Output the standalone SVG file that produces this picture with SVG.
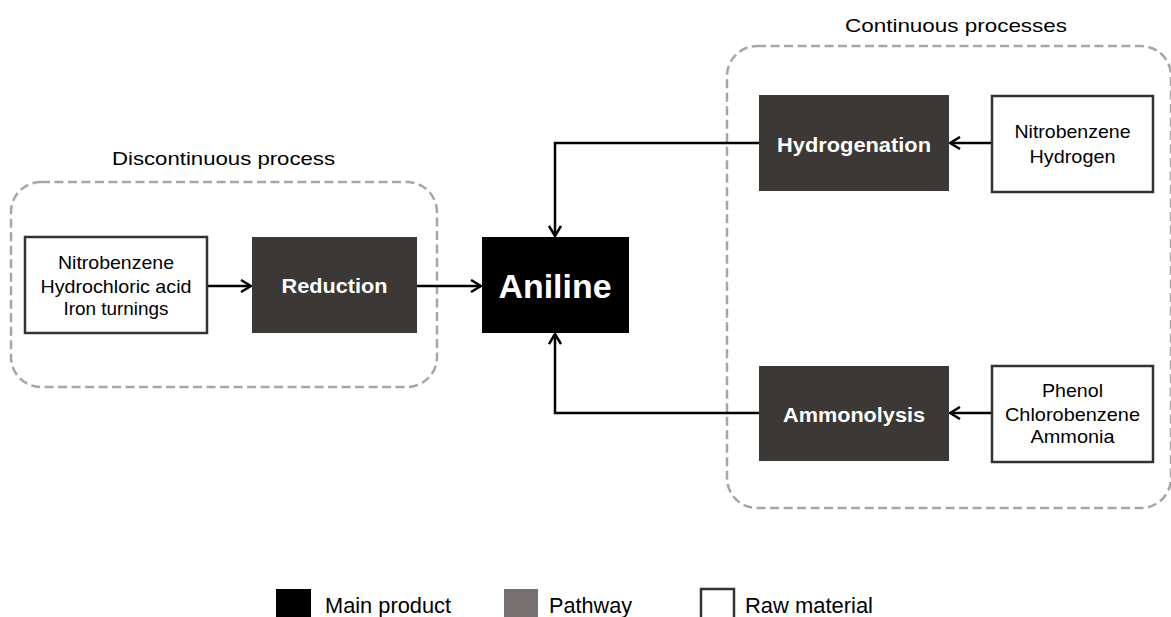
<svg xmlns="http://www.w3.org/2000/svg" width="1171" height="617" viewBox="0 0 1171 617">
<style>
  .grp{fill:none;stroke:#a6a6a6;stroke-width:2.5;stroke-dasharray:9 4.5}
  .raw{fill:#fff;stroke:#333;stroke-width:2.5}
  .path{fill:#3b3836}
  .prod{fill:#000}
  .t{font-family:"Liberation Sans",Arial,sans-serif;fill:#000;text-anchor:middle}
  .n{font-size:19px}
  .title{font-size:19px}
  .b{font-family:"Liberation Sans",Arial,sans-serif;font-weight:bold;fill:#fff;text-anchor:middle}
  .con{fill:none;stroke:#000;stroke-width:2.5}
  .leg{font-family:"Liberation Sans",Arial,sans-serif;font-size:22px;fill:#000}
</style>
<defs>
  <marker id="ah" viewBox="0 0 12 14" refX="11" refY="7" markerWidth="12" markerHeight="14" markerUnits="userSpaceOnUse" orient="auto">
    <path d="M1,1 L11,7 L1,13" fill="none" stroke="#000" stroke-width="2.5"/>
  </marker>
</defs>

<g id="group-discontinuous">
  <rect class="grp" x="11" y="182" width="426" height="205" rx="30"/>
  <text class="t title" x="223.5" y="165" textLength="223" lengthAdjust="spacingAndGlyphs">Discontinuous  process</text>
</g>
<g id="group-continuous">
  <rect class="grp" x="727" y="46" width="444" height="462" rx="30"/>
  <text class="t title" x="956" y="32" textLength="222" lengthAdjust="spacingAndGlyphs">Continuous  processes</text>
</g>

<g id="connectors">
  <line class="con" x1="207" y1="286" x2="251" y2="286" marker-end="url(#ah)"/>
  <line class="con" x1="417" y1="286" x2="481" y2="286" marker-end="url(#ah)"/>
  <polyline class="con" points="759,143 555,143 555,236" marker-end="url(#ah)"/>
  <polyline class="con" points="759,413 555,413 555,334" marker-end="url(#ah)"/>
  <line class="con" x1="992" y1="143" x2="950" y2="143" marker-end="url(#ah)"/>
  <line class="con" x1="992" y1="413" x2="950" y2="413" marker-end="url(#ah)"/>
</g>

<g id="raw-reduction">
  <rect class="raw" x="25" y="237" width="182" height="96"/>
  <text class="t n" x="116" y="269" textLength="116" lengthAdjust="spacingAndGlyphs">Nitrobenzene</text>
  <text class="t n" x="116" y="293" textLength="151" lengthAdjust="spacingAndGlyphs">Hydrochloric acid</text>
  <text class="t n" x="116" y="315" textLength="105" lengthAdjust="spacingAndGlyphs">Iron turnings</text>
</g>
<g id="reduction">
  <rect class="path" x="252" y="237" width="165" height="96"/>
  <text class="b" x="334.5" y="293" font-size="21" textLength="106" lengthAdjust="spacingAndGlyphs">Reduction</text>
</g>
<g id="aniline">
  <rect class="prod" x="482" y="237" width="147" height="96"/>
  <text class="b" x="555" y="298" font-size="33" textLength="113" lengthAdjust="spacingAndGlyphs">Aniline</text>
</g>
<g id="hydrogenation">
  <rect class="path" x="759" y="95" width="190" height="96"/>
  <text class="b" x="854" y="152" font-size="21" textLength="154" lengthAdjust="spacingAndGlyphs">Hydrogenation</text>
</g>
<g id="raw-hydrogenation">
  <rect class="raw" x="992" y="96" width="161" height="96"/>
  <text class="t n" x="1072.5" y="138" textLength="116" lengthAdjust="spacingAndGlyphs">Nitrobenzene</text>
  <text class="t n" x="1072.5" y="163" textLength="86" lengthAdjust="spacingAndGlyphs">Hydrogen</text>
</g>
<g id="ammonolysis">
  <rect class="path" x="759" y="366" width="190" height="95"/>
  <text class="b" x="854" y="422" font-size="21" textLength="142" lengthAdjust="spacingAndGlyphs">Ammonolysis</text>
</g>
<g id="raw-ammonolysis">
  <rect class="raw" x="992" y="366" width="161" height="96"/>
  <text class="t n" x="1072.5" y="397" textLength="61" lengthAdjust="spacingAndGlyphs">Phenol</text>
  <text class="t n" x="1072.5" y="421" textLength="135" lengthAdjust="spacingAndGlyphs">Chlorobenzene</text>
  <text class="t n" x="1072.5" y="443" textLength="84" lengthAdjust="spacingAndGlyphs">Ammonia</text>
</g>

<g id="legend">
  <rect x="276" y="589" width="35" height="30" fill="#000"/>
  <text class="leg" x="325" y="613" textLength="126" lengthAdjust="spacingAndGlyphs">Main product</text>
  <rect x="504" y="589" width="34" height="30" fill="#767170"/>
  <text class="leg" x="549" y="613" textLength="83" lengthAdjust="spacingAndGlyphs">Pathway</text>
  <rect x="701" y="589" width="33" height="30" fill="#fff" stroke="#333" stroke-width="2.5"/>
  <text class="leg" x="745" y="613" textLength="128" lengthAdjust="spacingAndGlyphs">Raw material</text>
</g>
</svg>
